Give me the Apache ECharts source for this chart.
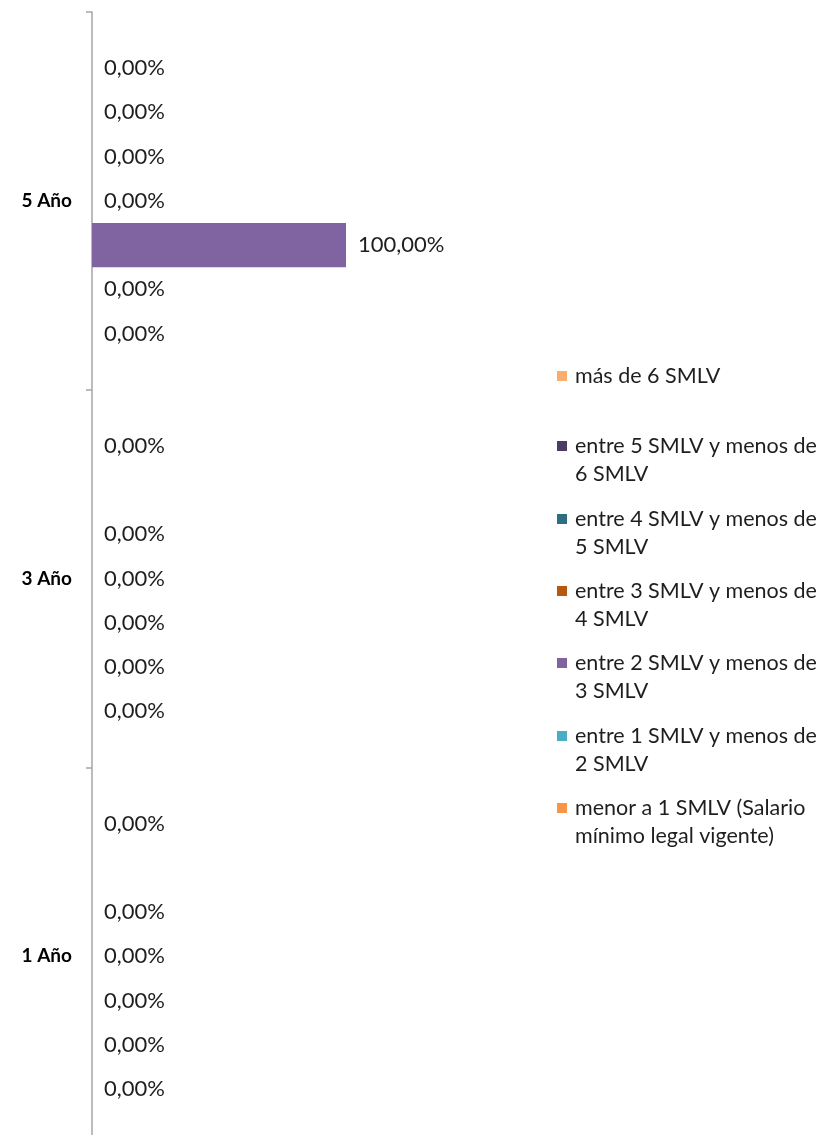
<!DOCTYPE html>
<html>
<head>
<meta charset="utf-8">
<script src="https://cdn.jsdelivr.net/npm/echarts@6/dist/echarts.min.js"></script>
<style>
  html, body { margin: 0; padding: 0; background: #ffffff; }
  #chart { width: 823px; height: 1135px; }
</style>
</head>
<body>
<div id="chart"></div>
<script>
// Categories along the vertical axis (bottom to top)
const categories = ['1 Año', '3 Año', '5 Año'];

// Series names, listed top to bottom as they appear in each group and in the legend
const seriesNames = [
  'más de 6 SMLV',
  'entre 5 SMLV y menos de 6 SMLV',
  'entre 4 SMLV y menos de 5 SMLV',
  'entre 3 SMLV y menos de 4 SMLV',
  'entre 2 SMLV y menos de 3 SMLV',
  'entre 1 SMLV y menos de 2 SMLV',
  'menor a 1 SMLV (Salario mínimo legal vigente)'
];

// Percentages per category [1 Año, 3 Año, 5 Año]; null = no data
const masDe6   = [0, 0, 0];
const entre5y6 = [null, null, 0];
const entre4y5 = [0, 0, 0];
const entre3y4 = [0, 0, 0];
const entre2y3 = [0, 0, 100];
const entre1y2 = [0, 0, 0];
const menorA1  = [0, 0, 0];

const seriesValues = [masDe6, entre5y6, entre4y5, entre3y4, entre2y3, entre1y2, menorA1];

// Legend text with its line breaks
const legendLabels = [
  ['más de 6 SMLV'],
  ['entre 5 SMLV y menos de', '6 SMLV'],
  ['entre 4 SMLV y menos de', '5 SMLV'],
  ['entre 3 SMLV y menos de', '4 SMLV'],
  ['entre 2 SMLV y menos de', '3 SMLV'],
  ['entre 1 SMLV y menos de', '2 SMLV'],
  ['menor a 1 SMLV (Salario', 'mínimo legal vigente)']
];

const colors = ['#F9AD6E', '#4D3B66', '#2E6E81', '#B7580F', '#8064A2', '#4BACC6', '#F79646'];

const FONT = 'Lato, "Open Sans", sans-serif';
const LINE_H = 28;
// vertical centre of each legend marker
const legendCenters = [376, 446, 519, 591, 663, 736, 808];

const fmtPct = v => v.toFixed(2).replace('.', ',') + '%';

const series = seriesNames.map((name, i) => ({
  name: name,
  type: 'bar',
  data: seriesValues[i],
  itemStyle: { color: colors[i] },
  barGap: '0%',
  barCategoryGap: '18%',
  label: {
    show: true,
    position: 'right',
    distance: 12,
    fontFamily: FONT,
    fontSize: 22,
    color: '#1e1e1e',
    formatter: p => fmtPct(p.value)
  }
}));

const legends = seriesNames.map((name, i) => {
  const lines = legendLabels[i];
  // two-line entries get an empty leading line so the marker sits on the first line
  const multi = lines.length > 1;
  const boxH = multi ? LINE_H * 3 : LINE_H;
  return {
    data: [name],
    orient: 'vertical',
    left: 557,
    top: legendCenters[i] - boxH / 2,
    padding: 0,
    itemWidth: 10,
    itemHeight: 10,
    icon: 'rect',
    selectedMode: false,
    textStyle: {
      fontFamily: FONT,
      fontSize: 21.5,
      lineHeight: LINE_H,
      color: '#1e1e1e',
      padding: [0, 0, 0, 3]
    },
    formatter: () => (multi ? '\n' : '') + lines.join('\n')
  };
});

const chart = echarts.init(document.getElementById('chart'), null, { renderer: 'canvas' });
chart.setOption({
  animation: false,
  backgroundColor: '#ffffff',
  color: colors,
  grid: {
    left: 92, top: 12, width: 254, height: 1133,
    containLabel: false,
    outerBoundsMode: 'none'
  },
  xAxis: {
    type: 'value',
    min: 0,
    max: 100,
    show: false
  },
  yAxis: {
    type: 'category',
    data: categories,
    axisLine: { show: true, lineStyle: { color: '#a6a6a6', width: 1.5 } },
    axisTick: { show: true, length: 6, lineStyle: { color: '#a6a6a6', width: 1.5 } },
    axisLabel: {
      margin: 20,
      fontFamily: FONT,
      fontWeight: 'bold',
      fontSize: 19,
      color: '#000000'
    },
    splitLine: { show: false }
  },
  legend: legends,
  series: series
});
</script>
</body>
</html>
